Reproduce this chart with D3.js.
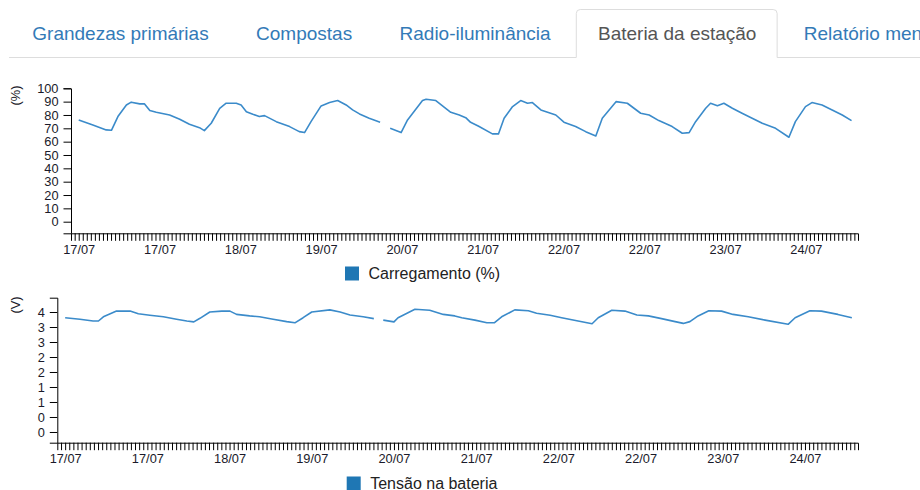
<!DOCTYPE html>
<html><head><meta charset="utf-8">
<script src="https://cdn.jsdelivr.net/npm/d3@7"></script>
<style>
body{margin:0;background:#fff;overflow:hidden;}
svg text{font-family:"Liberation Sans",Arial,Helvetica,sans-serif;}
</style></head><body>
<svg id="c" width="920" height="490"></svg>
<script>
// ---------- DATA ----------
const abas = ["Grandezas primárias","Compostas","Radio-iluminância","Bateria da estação","Relatório mensal"];
const abaAtiva = 3;

// hours since 17/07 00:00
const horasCarga = [0,3.5,6.8,8.1,9.7,11.8,13.0,15.1,16.3,17.6,19.2,22.5,25.0,27.4,29.9,31.1,32.8,34.9,36.5,39.0,40.2,41.5,43.1,44.7,46.0,48.9,52.2,54.6,55.9,57.5,60.0,62.1,64.1,66.2,67.8,69.5,71.9,74.6,76,77.1,79.8,81.4,85.1,86.0,88.4,92.1,94.2,95.8,97.0,99.0,102.4,103.9,105.3,107.4,109.4,111.1,112.3,114.4,118.1,120.1,123.0,125.5,128.0,129.6,133.0,135.8,139.1,141.2,143.6,146.9,149.4,151.1,152.7,155.2,156.4,158.1,159.7,161.8,164.2,166.7,169.2,172.5,175.8,177.4,179.9,181.5,184.0,186.5,189.0,191.3];
const carga = [76.3,72.5,68.8,68.5,78.8,87.5,89.6,88.3,88.3,83.3,82,80,76.8,73,70.5,68.3,73.8,85,88.8,88.8,87.5,82.5,80.5,78.8,79.5,75,71.3,67.5,66.8,75,86.8,89.3,90.8,87.5,83.8,80.8,77.6,74.6,null,70,66.8,76.3,90.8,91.8,90.8,82,80,78,74.5,71.5,65.8,65.8,77.6,86.3,90.8,88.8,89.3,83.8,80,74.6,71.3,67.5,64.3,77.6,90,88.8,81.3,80,75.8,71.3,66.3,66.8,75,85,88.8,87,88.8,85,81.3,77.6,73.8,70,63.3,75,86.3,89.3,87.5,83.8,80,75.8];

const horasTensao = [0,3.6,6.8,8.1,9.3,12.5,15.8,17.8,20.6,23.9,27.1,29.6,31.3,32.8,35.2,38.1,40.1,41.7,44.9,47.3,50.6,53.9,55.9,57.9,60.0,64.4,66.9,69.3,72.5,75.1,76,77.4,80.0,81.0,85.1,88.7,92.0,94.8,96.5,99.7,102.6,104.4,106.2,109.4,112.7,114.7,118.0,120.8,124.8,128.2,129.7,133.0,136.2,139.1,141.9,145.1,148.4,150.4,152.0,154.0,156.6,159.7,162.5,166.2,170.3,175.9,177.6,181.2,184.0,188.0,191.4];
const tensao = [3.81,3.76,3.70,3.70,3.84,4.03,4.03,3.94,3.89,3.84,3.76,3.70,3.67,3.79,4.0,4.03,4.03,3.92,3.87,3.84,3.76,3.68,3.64,3.81,4.0,4.07,4.0,3.9,3.84,3.78,null,3.73,3.67,3.81,4.09,4.06,3.92,3.87,3.81,3.73,3.64,3.64,3.84,4.07,4.04,3.96,3.89,3.81,3.70,3.61,3.81,4.06,4.03,3.9,3.87,3.78,3.68,3.62,3.68,3.87,4.04,4.03,3.92,3.84,3.73,3.59,3.81,4.04,4.03,3.92,3.81];

const cargaTicks = [0,10,20,30,40,50,60,70,80,90,100];
const cargaTickLabels = ["0","10","20","30","40","50","60","70","80","90","100"];
const tensaoTicks = [0,0.5,1,1.5,2,2.5,3,3.5,4];
const tensaoTickLabels = ["0","0","1","1","2","2","3","3","4"];

const rotuloEixo = ["(%)","(V)"];
const legendas = ["Carregamento (%)","Tensão na bateria"];

// ---------- DRAW ----------
const svg = d3.select("#c");
const FONT = '"Liberation Sans",Arial,Helvetica,sans-serif';

// Tabs
const tabY = 57.5, tabFont = 19, gap = 47.4;
let tx = 32.3;
const tabG = svg.append("g");
const pos = [];
abas.forEach((t,i)=>{
  const el = tabG.append("text").attr("x",tx).attr("y",40).attr("font-size",tabFont)
    .attr("fill", i===abaAtiva ? "#555" : "#337ab7").text(t);
  const w = el.node().getComputedTextLength();
  pos.push([tx, tx+w]);
  tx += w + gap;
});
const aL = pos[abaAtiva][0]-21.7, aR = pos[abaAtiva][1]+20.7;
tabG.insert("path",":first-child")
  .attr("d",`M9,${tabY}H${aL}V13.5Q${aL},9.5 ${aL+4},9.5H${aR-4}Q${aR},9.5 ${aR},13.5V${tabY}H920`)
  .attr("fill","none").attr("stroke","#ddd").attr("stroke-width",1);

const T0 = new Date(2023,6,17,0,0,0);
const toDate = h => new Date(T0.getTime() + h*3600e3);
const fmt = d3.timeFormat("%d/%m");

function chart(cfg){
  const x = d3.scaleTime().domain([toDate(-1.91), toDate(192.9)]).range([cfg.x0, 858]);
  const y = d3.scaleLinear().domain(cfg.yDom).range([cfg.yB, cfg.yT]);
  const g = svg.append("g");
  const xa = d3.axisBottom(x).ticks(d3.timeHour.every(1)).tickSize(7.5).tickPadding(4)
    .tickFormat(d => { const h = Math.round((d - T0)/3600e3); return (h>=0 && h%20===0) ? fmt(d) : ""; });
  const gx = g.append("g").attr("transform",`translate(0,${cfg.yB})`).call(xa);
  const ya = d3.axisLeft(y).tickValues(cfg.ticks).tickSize(7.5).tickPadding(5)
    .tickFormat((d,i)=>cfg.labels[i]);
  const gy = g.append("g").attr("transform",`translate(${cfg.x0},0)`).call(ya);
  [gx,gy].forEach(a=>{
    a.selectAll("text").attr("font-family",FONT).attr("font-size",12.8).attr("fill","#1a1a2a");
    a.select(".domain").attr("stroke","#000");
    a.selectAll(".tick line").attr("stroke","#000");
  });
  const data = cfg.h.map((h,i)=>({t:toDate(h), v:cfg.v[i]}));
  g.append("path").datum(data)
    .attr("d", d3.line().defined(d=>d.v!=null).x(d=>x(d.t)).y(d=>y(d.v)))
    .attr("fill","none").attr("stroke","#3b8bca").attr("stroke-width",1.6)
    .attr("stroke-linejoin","round");
  g.append("text").attr("transform",`translate(20,${cfg.labY}) rotate(-90)`)
    .attr("text-anchor","middle").attr("font-size",12.8).attr("fill","#1a1a2a").text(cfg.axisLabel);
  g.append("rect").attr("x",cfg.legX).attr("y",cfg.legY).attr("width",14).attr("height",14).attr("fill","#1f77b4");
  g.append("text").attr("x",cfg.legX+23.5).attr("y",cfg.legY+12).attr("font-size",16).attr("fill","#222").text(cfg.legend);
}

chart({x0:71, yB:233.3, yT:88.3, yDom:[-8.7,100], ticks:cargaTicks, labels:cargaTickLabels,
  h:horasCarga, v:carga, axisLabel:rotuloEixo[0], labY:95.5, legX:345, legY:266.5, legend:legendas[0]});
chart({x0:57.3, yB:442.7, yT:297.7, yDom:[-0.357,4.477], ticks:tensaoTicks, labels:tensaoTickLabels,
  h:horasTensao, v:tensao, axisLabel:rotuloEixo[1], labY:305, legX:346.7, legY:476.5, legend:legendas[1]});
</script>
</body></html>
